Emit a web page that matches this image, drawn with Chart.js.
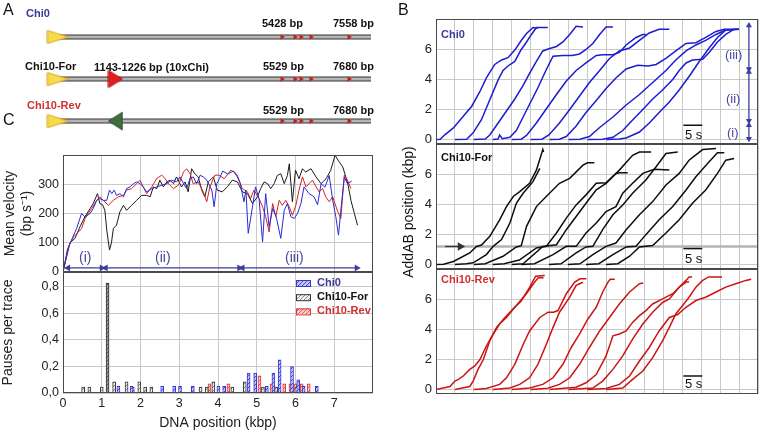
<!DOCTYPE html>
<html>
<head>
<meta charset="utf-8">
<title>AddAB translocation on Chi constructs</title>
<script src="https://cdn.jsdelivr.net/npm/chart.js@4.4.1/dist/chart.umd.min.js"></script>
<style>
  body { margin: 0; background: #fff; }
  #fig { position: relative; width: 760px; height: 434px; overflow: hidden; font-family: 'Liberation Sans', Arial, sans-serif; }
  #fig canvas { position: absolute; }
  .t { position: absolute; white-space: nowrap; line-height: 1; color: #111; }
  .panel { font-size: 16px; }
  .nm { font-size: 11px; font-weight: bold; }
  .rn { font-size: 13px; color: #4646a0; }
  .sb { font-size: 13px; }
  .ytitle { font-size: 14px; transform: translate(-50%, -50%) rotate(-90deg); }
</style>
</head>
<body>
<div id="fig">
  <canvas id="diagram" width="400" height="140" style="left:0;top:0"></canvas>
  <canvas id="velocity" width="380" height="149" style="left:0;top:139px"></canvas>
  <canvas id="pauses" width="380" height="178" style="left:0;top:256px"></canvas>
  <canvas id="bChi0" width="360" height="157" style="left:400px;top:3px"></canvas>
  <canvas id="bFor" width="360" height="157" style="left:400px;top:128px"></canvas>
  <canvas id="bRev" width="360" height="157" style="left:400px;top:253px"></canvas>

  <div class="t panel" style="left:3px;top:2px">A</div>
  <div class="t panel" style="left:398px;top:2px">B</div>
  <div class="t panel" style="left:3px;top:112px">C</div>

  <div class="t nm" style="left:26px;top:8px;color:#3a3a9a">Chi0</div>
  <div class="t nm" style="left:262px;top:18px">5428 bp</div>
  <div class="t nm" style="left:333px;top:18px">7558 bp</div>
  <div class="t nm" style="left:25px;top:61px">Chi10-For</div>
  <div class="t nm" style="left:94px;top:62px">1143-1226 bp (10xChi)</div>
  <div class="t nm" style="left:263px;top:61px">5529 bp</div>
  <div class="t nm" style="left:333px;top:61px">7680 bp</div>
  <div class="t nm" style="left:27px;top:100px;color:#d03030">Chi10-Rev</div>
  <div class="t nm" style="left:263px;top:105px">5529 bp</div>
  <div class="t nm" style="left:333px;top:105px">7680 bp</div>

  <div class="t nm" style="left:441px;top:29px;color:#3a3a9a">Chi0</div>
  <div class="t nm" style="left:441px;top:152px">Chi10-For</div>
  <div class="t nm" style="left:441px;top:274px;color:#d03030">Chi10-Rev</div>
  <div class="t sb" style="left:685px;top:128px">5 s</div>
  <div class="t sb" style="left:685px;top:252px">5 s</div>
  <div class="t sb" style="left:685px;top:377px">5 s</div>
  <div class="t rn" style="left:725px;top:48px">(iii)</div>
  <div class="t rn" style="left:726px;top:92px">(ii)</div>
  <div class="t rn" style="left:727px;top:126px">(i)</div>
  <div class="t ytitle" style="left:408px;top:212px">AddAB position (kbp)</div>

  <div class="t rn" style="left:79px;top:250px;font-size:14px">(i)</div>
  <div class="t rn" style="left:155px;top:250px;font-size:14px">(ii)</div>
  <div class="t rn" style="left:285px;top:250px;font-size:14px">(iii)</div>
</div>

<script>
// ---- data ----
const rows = ['Chi0', 'Chi10-For', 'Chi10-Rev'];
const constructBp = 7680;
const chiSitesBp = [5496, 5815, 5962, 6207, 7140];
const chi10Bp = 1410;

const kbpTicks = [0, 1, 2, 3, 4, 5, 6, 7];
const velTicks = [0, 100, 200, 300];
const pauseTicks = [0, 0.2, 0.4, 0.6, 0.8];
const posTicks = [0, 2, 4, 6];

// mean velocity (kbp, bp/s)
const velChi0 = [[0,0],[0.11,75],[0.22,109],[0.35,149],[0.48,200],[0.57,188],[0.7,200],[0.78,217],[0.87,245],[0.95,251],[1.04,245],[1.13,245],[1.2,280],[1.26,268],[1.32,280],[1.38,262],[1.47,268],[1.56,257],[1.64,285],[1.73,291],[1.82,302],[1.9,308],[1.99,302],[2.07,291],[2.16,274],[2.29,285],[2.42,291],[2.55,297],[2.68,302],[2.8,314],[2.93,308],[3.02,325],[3.11,302],[3.19,285],[3.28,320],[3.36,325],[3.45,302],[3.54,331],[3.62,325],[3.71,314],[3.84,280],[3.9,223],[3.97,302],[4.04,320],[4.12,345],[4.25,335],[4.4,345],[4.5,330],[4.57,305],[4.67,240],[4.72,280],[4.78,132],[4.89,223],[4.97,291],[5.06,250],[5.15,103],[5.23,268],[5.32,155],[5.41,217],[5.5,190],[5.62,115],[5.71,211],[5.79,234],[5.88,189],[5.97,183],[6.05,200],[6.14,234],[6.22,291],[6.35,268],[6.48,257],[6.57,230],[6.66,302],[6.76,290],[6.87,330],[6.96,245],[7.04,189],[7.11,126],[7.17,211],[7.26,325],[7.34,302],[7.45,311]];
const velFor = [[0,0],[0.18,100],[0.31,115],[0.44,155],[0.57,190],[0.7,217],[0.78,234],[0.89,268],[0.95,234],[1.02,230],[1.08,211],[1.13,143],[1.2,75],[1.25,100],[1.3,149],[1.38,160],[1.47,206],[1.56,228],[1.64,211],[1.77,228],[1.9,245],[2.03,262],[2.16,262],[2.25,257],[2.33,291],[2.42,285],[2.5,314],[2.59,291],[2.68,308],[2.76,314],[2.85,302],[2.93,325],[3.06,291],[3.15,308],[3.23,274],[3.32,353],[3.4,336],[3.49,325],[3.58,280],[3.66,257],[3.75,308],[3.88,325],[3.98,280],[4.11,274],[4.24,291],[4.37,314],[4.5,308],[4.63,274],[4.76,268],[4.89,234],[5.02,257],[5.1,285],[5.19,308],[5.28,302],[5.36,285],[5.45,302],[5.53,330],[5.62,336],[5.71,302],[5.79,330],[5.84,370],[5.92,240],[6.0,348],[6.09,319],[6.18,353],[6.26,342],[6.4,353],[6.53,325],[6.66,302],[6.79,319],[6.91,348],[7.02,399],[7.1,382],[7.22,359],[7.35,302],[7.43,245],[7.52,200],[7.6,160]];
const velRev = [[0,0],[0.14,86],[0.27,120],[0.4,137],[0.48,149],[0.57,183],[0.65,200],[0.74,217],[0.87,245],[0.95,257],[1.04,245],[1.17,228],[1.3,245],[1.43,257],[1.56,262],[1.64,280],[1.77,285],[1.9,302],[1.99,314],[2.07,291],[2.16,268],[2.29,291],[2.42,320],[2.55,331],[2.63,320],[2.72,302],[2.85,285],[2.98,297],[3.11,342],[3.19,353],[3.28,336],[3.36,302],[3.49,308],[3.62,274],[3.71,240],[3.79,291],[3.92,331],[4.03,331],[4.16,319],[4.33,348],[4.41,342],[4.5,325],[4.63,285],[4.76,274],[4.84,251],[4.93,280],[5.06,251],[5.15,223],[5.23,189],[5.32,137],[5.41,234],[5.49,189],[5.58,245],[5.66,228],[5.75,245],[5.84,223],[5.92,194],[6.01,228],[6.09,280],[6.18,325],[6.27,291],[6.35,302],[6.44,314],[6.53,291],[6.61,274],[6.7,285],[6.78,257],[6.87,240],[6.96,257],[7.09,206],[7.17,183],[7.26,331],[7.34,314],[7.43,285]];
const phaseBounds = [[0.13, 1.0], [1.1, 4.55], [4.63, 7.58]];

// pauses per trace (kbp, pauses)
const pauseChi0 = [[1.43,0.05],[1.77,0.05],[2.56,0.05],[2.87,0.05],[3.02,0.05],[3.35,0.05],[4.01,0.05],[4.16,0.05],[4.79,0.15],[4.96,0.15],[5.26,0.05],[5.43,0.15],[5.59,0.25],[5.91,0.2],[6.07,0.1],[6.21,0.05],[6.55,0.05]];
const pauseFor = [[0.52,0.045],[0.68,0.045],[1.0,0.045],[1.15,0.83],[1.32,0.085],[1.64,0.085],[1.8,0.045],[1.97,0.085],[2.12,0.045],[2.28,0.045],[3.55,0.045],[3.71,0.045],[3.88,0.085],[4.37,0.045],[4.69,0.085],[5.16,0.045],[5.5,0.045],[6.02,0.045]];
const pauseRev = [[3.78,0.07],[4.27,0.07],[5.07,0.13],[5.38,0.07],[5.71,0.07],[5.87,0.07],[5.99,0.07],[6.16,0.07],[6.34,0.07]];

// single-molecule traces (s, kbp)
const chi0Traces = [
  [[0,0],[1.1,0.02],[2.4,0.33],[4.6,0.77],[7.2,1.55],[9.4,2.2],[11.6,3.2],[13.3,4.1],[15.5,5.0],[17.3,5.3],[19,5.45],[20.8,5.96],[22.5,6.6],[23.9,7.06],[25.6,7.46],[26.9,7.42]],
  [[5,0],[8.1,0.02],[9.8,0.44],[12,1.32],[14.2,2.65],[16.4,3.97],[17.7,4.6],[19,4.9],[20.8,5.2],[22.5,6.0],[23.9,6.5],[25.2,7.0],[26.5,7.46],[29.5,7.46]],
  [[10,0],[13,0.03],[14.2,0.3],[16.4,1.1],[18.6,1.9],[20.8,2.7],[23,3.6],[24.7,4.4],[26.5,5.2],[28.2,5.9],[29.8,6.05],[31.8,6.2],[33.5,6.5],[35.3,7.0],[37,7.55],[38.8,7.5]],
  [[15,0],[16.4,0.03],[16.8,0.3],[17.5,0.05],[19.5,0.15],[21.2,0.6],[23,1.5],[25,2.5],[27,3.5],[29,4.6],[30.9,5.55],[33.5,5.6],[36,5.6],[37.9,5.7],[39.6,6.0],[41.4,6.4],[43.2,7.0],[44.9,7.5],[46.7,7.5]],
  [[20,0],[22.5,0.02],[24,0.3],[26.5,1.1],[29,2.0],[31.8,3.0],[34.4,3.9],[37,4.6],[39.6,5.1],[42.3,5.6],[44,5.65],[46.7,5.65],[48.4,5.8],[50.2,6.3],[52.8,6.8],[54.6,7.0],[55.4,7.0]],
  [[25,0],[28,0.02],[29.8,0.3],[32.6,1.1],[35.3,2.0],[37.9,2.9],[40.5,3.8],[43.2,4.6],[45.8,5.4],[48.4,5.9],[51.1,6.1],[53.7,6.6],[56.3,7.1],[58.9,7.35],[61.6,7.35]],
  [[30,0],[32.6,0.02],[34.4,0.2],[37,0.9],[39.6,1.8],[42.3,2.6],[44.9,3.4],[47.5,4.1],[50.2,4.7],[53.2,4.95],[56,4.9],[58.1,5.0],[60.7,5.4],[63.3,5.9],[66,6.4],[68.6,6.45],[71.2,6.8],[73.9,7.2],[76.1,7.35],[78.7,7.35]],
  [[35,0],[38,0.02],[40.5,0.2],[43.2,0.8],[46.7,1.5],[50.2,2.3],[53.7,3.0],[57.2,3.8],[60.7,4.6],[63.3,5.3],[66,5.9],[68.6,6.3],[71.2,6.6],[73.9,7.0],[76.5,7.3],[80,7.35]],
  [[40,0],[44,0.02],[46.7,0.15],[49.3,0.6],[51.9,1.3],[54.6,2.0],[57.2,2.7],[59.8,3.3],[62.5,4.0],[64.2,4.6],[66,5.1],[67.7,5.3],[70.4,5.35],[72.1,5.8],[74.3,6.5],[76.5,7.0],[78.7,7.35],[80,7.35]],
  [[45,0],[48.4,0.03],[50.2,0.1],[53.7,0.5],[56.3,1.1],[58.9,1.8],[61.6,2.5],[64.2,3.3],[66.8,4.2],[69.5,5.2],[72.1,6.1],[74.3,6.8],[76.5,7.3],[80,7.35]]
];
const forTraces = [
  [[0,0],[2,0.02],[4.6,0.2],[8.9,0.77],[10.7,1.2],[12,1.3],[14.2,1.88],[16.8,2.98],[18.6,3.86],[20.4,4.53],[22.1,4.86],[24.7,5.41],[26.5,6.29],[28.2,7.66],[28.4,7.5]],
  [[5,0],[8,0.05],[9.8,0.11],[13.3,0.66],[15.1,1.21],[17.3,1.66],[19.5,2.76],[21.2,4.08],[23,4.75],[25.6,5.52],[27.4,6.4]],
  [[10,0],[13,0.05],[17.7,0.55],[21.2,1.17],[22.5,1.25],[23.9,2.54],[26.5,3.86],[29.1,4.53],[32.6,5.41],[35.3,5.74],[38.8,6.62],[40,6.78],[41.8,6.78]],
  [[15,0],[18,0.05],[22,0.3],[26.5,1.1],[29.1,1.21],[31.8,2.1],[34.4,3.09],[37,3.97],[39.6,4.64],[42.3,5.41],[44.9,5.45],[47.5,6.07],[48.5,6.11],[50.6,6.11]],
  [[20,0],[23,0.05],[28.2,1.2],[31.8,1.32],[34.4,2.32],[37,3.2],[39.6,4.08],[42.3,4.97],[44.9,5.41],[48.4,6.29],[51.9,7.28],[53.7,7.5],[56.8,7.5]],
  [[22.5,0],[26,0.05],[30.9,0.66],[34.4,1.21],[37,1.21],[39.6,2.1],[42.3,2.76],[44.9,3.53],[47.5,3.86],[49.3,4.75],[51.9,5.41],[54.6,6.07],[57.6,6.34],[61.6,6.29]],
  [[29.8,0],[33,0.05],[37,0.77],[39.6,1.17],[41.4,1.21],[44,2.32],[46.7,3.31],[49.3,3.97],[51.9,4.75],[55.4,5.63],[58.1,6.51],[60.7,7.4],[63.8,7.5]],
  [[34.8,0],[38,0.05],[41.4,0.66],[44.9,1.21],[47.5,1.43],[50.2,2.32],[53.7,3.31],[57.2,4.19],[60.7,5.3],[64.2,6.07],[66.8,6.95],[70.4,7.66],[73.9,7.73]],
  [[39.6,0],[43,0.05],[46.7,0.66],[50.2,1.17],[52.8,1.21],[55.4,1.99],[58.9,2.98],[62.5,3.86],[66,4.97],[68.6,5.85],[72.1,6.84],[74.3,7.44],[76.1,7.44]],
  [[44.9,0],[48,0.05],[51.1,0.55],[53.7,1.17],[57.2,1.26],[60.7,2.1],[64.2,2.98],[67.7,4.08],[71.2,4.97],[74.3,6.07],[76.5,6.95],[78.7,7.06]]
];
const revTraces = [
  [[0,0],[3.7,0.2],[5,0.56],[5.9,0.67],[7.2,0.9],[8.9,1.34],[10.2,1.55],[11.6,2.0],[13.3,2.9],[15.1,3.7],[16.8,4.36],[18.6,4.8],[20.8,5.48],[22.5,5.9],[24.7,6.8],[26.3,7.55],[28.7,7.6]],
  [[5,0],[8.9,0.2],[9.8,0.56],[11.1,1.34],[12.5,2.0],[14.2,3.24],[16,4.14],[18.2,4.8],[21.2,5.6],[23.9,6.4],[26,7.15],[27,7.45],[28.4,7.45]],
  [[10,0],[13.3,0.07],[16.8,0.34],[18.6,0.78],[20.8,1.68],[23,3.0],[24.7,3.9],[27.4,4.8],[29.6,5.15],[31,5.15],[32.2,5.26],[34.4,6.38],[36.6,7.16],[38,7.38],[39.7,7.38]],
  [[15,0],[19.5,0.1],[22.1,0.34],[24.7,0.78],[26.9,1.68],[29.1,3.0],[30.9,4.14],[32.6,5.15],[35.3,6.15],[37,6.94],[37.9,7.05],[38.8,7.15]],
  [[20,0],[24.7,0.1],[28.2,0.34],[30.9,0.78],[33.5,1.68],[35.7,2.8],[37.9,3.7],[40.1,4.7],[42.3,5.48],[44,6.5],[45.4,7.16],[46,7.35],[47.2,7.35]],
  [[25,0],[29.5,0.08],[32.6,0.34],[35.3,0.78],[37.9,1.68],[40.5,2.8],[43.2,3.9],[45.8,4.8],[48.4,5.7],[51.1,6.5],[53.7,7.05],[54.7,7.1]],
  [[30,0],[37,0.15],[39.6,0.45],[42.3,1.0],[44.9,2.24],[46.7,3.58],[48.4,3.7],[50.2,3.9],[51.9,4.47],[53.7,4.92],[55.4,5.26],[57.2,5.7],[59.8,6.04],[62.5,6.38],[64.2,6.82],[66,7.27],[66.8,7.5],[67.6,7.5]],
  [[35,0],[41.4,0.1],[44,0.56],[46.7,1.34],[49.3,2.24],[51.9,3.36],[54.6,4.36],[57.2,5.15],[59.8,5.8],[61.6,6.04],[64.2,6.82],[66,7.16],[66.8,7.16]],
  [[40,0],[44.9,0.07],[48.4,0.34],[51.1,0.9],[53.7,1.9],[56.3,2.8],[58.9,3.9],[61.6,4.8],[63.8,5.0],[66,5.48],[68.6,5.93],[71.2,6.15],[73.9,6.5],[76.5,6.82],[79.1,7.05],[81.8,7.27],[83.2,7.35]],
  [[45,0],[49.3,0.1],[51.9,0.67],[54.6,1.23],[57.2,2.12],[59.8,3.24],[61.6,4.14],[63.3,5.03],[65.1,5.6],[66.8,6.15],[68.6,6.82],[70.4,7.27],[72,7.5],[75.5,7.5]]
];
const bPhases = [[7.6, 4.7], [4.5, 1.25], [0.95, 0.05]];
const scaleBarS = [65.3, 70.3];
const chiPauseKbp = 1.2;

// ---- common setup ----
Chart.defaults.font.family = "'Liberation Sans', Arial, sans-serif";
Chart.defaults.color = '#222';
Chart.defaults.animation = false;
Chart.defaults.responsive = false;
Chart.defaults.layout.autoPadding = false;
Chart.defaults.plugins.legend.display = false;
Chart.defaults.plugins.tooltip.enabled = false;
Chart.defaults.elements.point.radius = 0;

const GRID = '#c9c9c9';
const ARROW = '#3b3ba0';

const frame = {
  id: 'frame',
  afterDraw(chart) {
    const a = chart.chartArea, g = chart.ctx;
    g.save();
    g.strokeStyle = '#4a4a4a';
    g.lineWidth = 1;
    g.strokeRect(Math.round(a.left) + 0.5, Math.round(a.top) + 0.5,
                 Math.round(a.right - a.left) - 1, Math.round(a.bottom - a.top) - 1);
    g.restore();
  }
};

function setTicks(list) {
  return axis => { axis.ticks = list.map(v => ({ value: v })); };
}

function line(data, color, width) {
  return { data: data, showLine: true, borderColor: color, borderWidth: width, pointRadius: 0 };
}

// a shaft with triangle heads at both ends
function arrow(a, b, color, r, rotA, rotB) {
  return {
    data: [a, b], showLine: true, borderColor: color, backgroundColor: color, borderWidth: 1.3,
    pointStyle: 'triangle', pointRadius: [r[0], r[1]], pointBorderWidth: 0,
    pointRotation: [rotA, rotB]
  };
}

function triImg(w, h, dir, fill, edge) {
  const c = document.createElement('canvas');
  c.width = w; c.height = h;
  const g = c.getContext('2d');
  g.beginPath();
  if (dir > 0) { g.moveTo(1, 1); g.lineTo(w - 1, h / 2); g.lineTo(1, h - 1); }
  else { g.moveTo(w - 1, 1); g.lineTo(1, h / 2); g.lineTo(w - 1, h - 1); }
  g.closePath();
  g.fillStyle = fill; g.fill();
  g.strokeStyle = edge; g.lineWidth = 1; g.stroke();
  return c;
}

function hatch(fill, stroke) {
  const c = document.createElement('canvas');
  c.width = 4; c.height = 4;
  const g = c.getContext('2d');
  g.fillStyle = fill; g.fillRect(0, 0, 4, 4);
  g.strokeStyle = stroke; g.lineWidth = 1;
  g.beginPath(); g.moveTo(0, 4); g.lineTo(4, 0); g.stroke();
  return g.createPattern(c, 'repeat');
}

// ---- A: constructs (first dataset ends up on top) ----
const yellowTri = triImg(23, 15, 1, '#f6dc4c', '#d9a520');
const redTri = triImg(16, 19, 1, '#e01f1f', '#b01010');
const greenTri = triImg(16, 20, -1, '#3f6e3f', '#2b502b');

const diagramSets = [];
rows.forEach((name, r) => {
  diagramSets.push({ data: [[0, r]], pointStyle: yellowTri, pointRadius: 11 });
  if (r === 1) diagramSets.push({ data: [[chi10Bp, r]], pointStyle: redTri, pointRadius: 9 });
  if (r === 2) diagramSets.push({ data: [[chi10Bp, r]], pointStyle: greenTri, pointRadius: 9 });
  diagramSets.push({
    data: chiSitesBp.map(b => [b, r]), pointStyle: 'triangle', pointRotation: 90,
    pointRadius: 3, pointBackgroundColor: '#d01818', pointBorderWidth: 0
  });
  diagramSets.push(line([[0, r], [constructBp, r]], '#b5b5b5', 3));
  diagramSets.push(line([[0, r], [constructBp, r]], '#333', 5));
});

new Chart(document.getElementById('diagram'), {
  type: 'scatter',
  data: { datasets: diagramSets },
  options: {
    layout: { padding: 0 },
    scales: {
      x: { type: 'linear', display: false, min: -1423, max: 8391 },
      y: { display: false, min: -0.88, max: 2.45, reverse: true }
    }
  }
});

// ---- C top: mean velocity ----
const velSets = [];
phaseBounds.forEach(p => velSets.push(arrow([p[0], 14], [p[1], 14], ARROW, [4, 4], 270, 90)));
velSets.push(line(velChi0, '#2b2bd6', 1));
velSets.push(line(velRev, '#d62020', 1));
velSets.push(line(velFor, '#1a1a1a', 1));

new Chart(document.getElementById('velocity'), {
  type: 'scatter',
  data: { datasets: velSets },
  options: {
    layout: { padding: { top: 16, right: 7, bottom: 16, left: 0 } },
    scales: {
      x: {
        type: 'linear', min: 0, max: 8,
        afterBuildTicks: setTicks(kbpTicks),
        afterFit: s => { s.height = 0; },
        ticks: { display: false },
        grid: { color: GRID, drawTicks: false },
        border: { display: false }
      },
      y: {
        min: 0, max: 400,
        afterBuildTicks: setTicks(velTicks),
        afterFit: s => { s.width = 63; },
        ticks: { font: { size: 12.5 }, padding: 4 },
        grid: { color: GRID, drawTicks: false },
        border: { display: false },
        title: { display: true, text: ['Mean velocity', '(bp s\u207B\u00B9)'], font: { size: 14 }, color: '#222', padding: { top: 2, bottom: 0 } }
      }
    }
  },
  plugins: [frame]
});

// ---- C bottom: pauses per trace ----
const blueHatch = hatch('#c4c4f4', '#4a4ad8');
const whiteHatch = hatch('#f2f2f2', '#8a8a8a');
const grayHatch = hatch('#9a9a9a', '#555');
const redHatch = hatch('#f6cccc', '#e06060');

const pauseLegend = {
  id: 'pauseLegend',
  afterDraw(chart) {
    const g = chart.ctx, a = chart.chartArea;
    g.save();
    g.font = "bold 11px 'Liberation Sans', Arial, sans-serif";
    g.textBaseline = 'middle';
    chart.data.datasets.forEach((ds, i) => {
      const x = a.right - 77, y = a.top + 11 + i * 14.2;
      g.fillStyle = ds.legendFill;
      g.fillRect(x, y - 3, 15, 6);
      g.strokeStyle = ds.borderColor; g.lineWidth = 1;
      g.strokeRect(x + 0.5, y - 2.5, 14, 6);
      g.fillStyle = ds.labelColor;
      g.fillText(ds.label, x + 21, y);
    });
    g.restore();
  }
};

function bars(label, pts, fill, border, labelColor) {
  return {
    label: label, data: pts.map(p => ({ x: p[0], y: p[1] })),
    backgroundColor: fill, borderColor: border, borderWidth: 1,
    barThickness: 3, grouped: false,
    legendFill: typeof fill === 'function' ? whiteHatch : fill, labelColor: labelColor
  };
}

new Chart(document.getElementById('pauses'), {
  type: 'bar',
  data: {
    datasets: [
      bars('Chi0', pauseChi0, blueHatch, '#3434d8', '#3a3a9a'),
      bars('Chi10-For', pauseFor, c => (c.raw && c.raw.y > 0.5 ? grayHatch : whiteHatch), '#333', '#111'),
      bars('Chi10-Rev', pauseRev, redHatch, '#e03030', '#d03030')
    ]
  },
  options: {
    layout: { padding: { top: 16, right: 7, bottom: 0, left: 0 } },
    scales: {
      x: {
        type: 'linear', min: 0, max: 8, offset: false,
        afterBuildTicks: setTicks(kbpTicks),
        afterFit: s => { s.height = 41; },
        ticks: { font: { size: 12.5 }, padding: 3, maxRotation: 0 },
        grid: { color: GRID, drawTicks: false, offset: false },
        border: { display: false },
        title: { display: true, text: 'DNA position (kbp)', font: { size: 14 }, color: '#222', padding: { top: 0, bottom: 2 } }
      },
      y: {
        min: 0, max: 0.913,
        afterBuildTicks: setTicks(pauseTicks),
        afterFit: s => { s.width = 63; },
        ticks: { font: { size: 12.5 }, padding: 4, callback: v => v.toFixed(1).replace('.', ',') },
        grid: { color: GRID, drawTicks: false },
        border: { display: false },
        title: { display: true, text: 'Pauses per trace', font: { size: 14 }, color: '#222', padding: { top: 0, bottom: 6 } }
      }
    }
  },
  plugins: [frame, pauseLegend]
});

// ---- B: AddAB position traces ----
function tracePanel(id, traces, color, barY, under) {
  const sets = [line([[scaleBarS[0], barY], [scaleBarS[1], barY]], '#111', 1.5)];
  traces.forEach(t => sets.push(line(t, color, 1.5)));
  (under || []).forEach(d => sets.push(d));
  new Chart(document.getElementById(id), {
    type: 'scatter',
    data: { datasets: sets },
    options: {
      layout: { padding: { top: 16, right: 2, bottom: 16, left: 0 } },
      scales: {
        x: {
          type: 'linear', min: 0, max: 85,
          ticks: { display: false, stepSize: 5 },
          afterFit: s => { s.height = 0; },
          grid: { color: GRID, drawTicks: false },
          border: { display: false }
        },
        y: {
          min: -0.3, max: 8.03,
          afterBuildTicks: setTicks(posTicks),
          afterFit: s => { s.width = 36; },
          ticks: { font: { size: 13 }, padding: 4 },
          grid: { color: GRID, drawTicks: false },
          border: { display: false }
        }
      }
    },
    plugins: [frame]
  });
}

const chi0Arrows = bPhases.map(p => arrow([82.6, p[0]], [82.6, p[1]], ARROW, [3.5, 3.5], 0, 180));
tracePanel('bChi0', chi0Traces, '#1c1cd0', 0.95, chi0Arrows);

const forUnder = [
  arrow([2.4, chiPauseKbp], [6.4, chiPauseKbp], '#333', [0, 5], 0, 90),
  line([[0, chiPauseKbp], [85, chiPauseKbp]], '#b4b4b4', 2.5)
];
tracePanel('bFor', forTraces, '#0d0d0d', 1.06, forUnder);

tracePanel('bRev', revTraces, '#cc1414', 0.9);
</script>
</body>
</html>
